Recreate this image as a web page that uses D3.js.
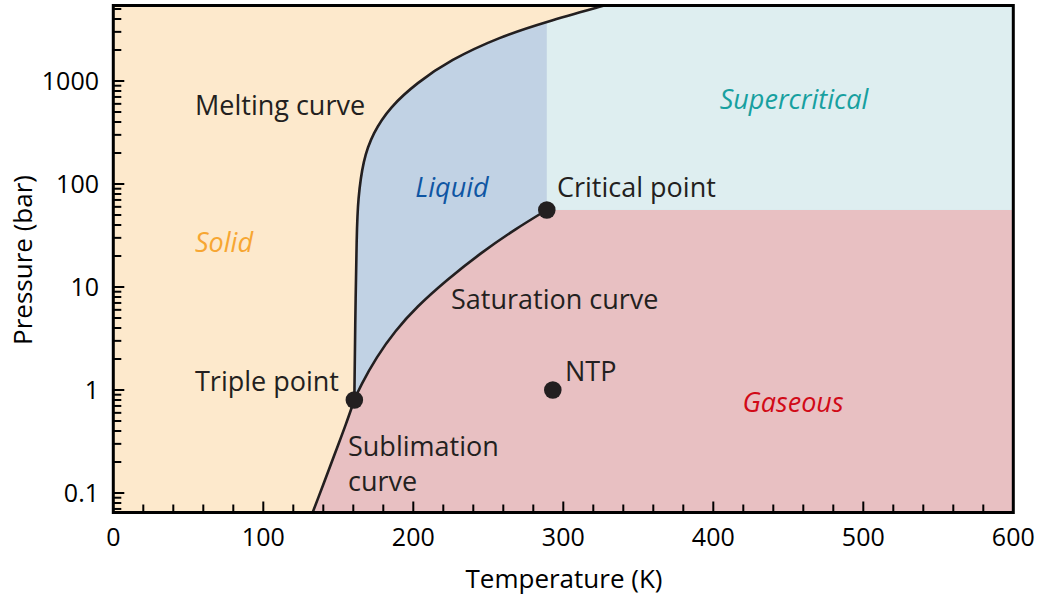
<!DOCTYPE html>
<html>
<head>
<meta charset="utf-8">
<script src="https://cdn.jsdelivr.net/npm/d3@7"></script>
<style>
  html, body { margin: 0; padding: 0; background: #fff; }
  svg { display: block; font-family: "Open Sans", "Noto Sans", sans-serif; }
</style>
</head>
<body>
<svg id="chart" width="1040" height="598"></svg>
<script>
// Phase boundaries (temperature in K, pressure in bar)
const sublimationT = [132.5, 140, 148, 155, 160.7];
const sublimationP = [0.0625, 0.121, 0.247, 0.464, 0.8];

const meltingT = [160.7, 161.2, 162.3, 163.1, 166.5, 173.1, 184.5, 202.3, 224.5, 257.8, 288.9, 324.5, 351];
const meltingP = [0.8, 3.8, 35.7, 70, 171, 313, 560, 957, 1600, 2690, 3770, 5260, 6760];

const saturationT = [160.7, 164.5, 175.6, 187.8, 202.3, 222.3, 244.5, 268.9, 289];
const saturationP = [0.8, 1.08, 2.11, 3.74, 6.44, 11.7, 21.2, 37.2, 56];

// Marked points
const pointNames = ["Triple point", "Critical point", "NTP"];
const pointT = [160.7, 289, 293];
const pointP = [0.8, 56, 1.0];

// Axis ticks
const xTickValues = [0, 100, 200, 300, 400, 500, 600];
const yTickValues = [0.1, 1, 10, 100, 1000];
const yTickLabels = ["0.1", "1", "10", "100", "1000"];

const svg = d3.select("#chart");
const pL = 113.3, pR = 1013.3, pT = 5.5, pB = 512.5;

const x = d3.scaleLinear().domain([0, 600]).range([pL, pR]);
const yMin = Math.pow(10, -(pB - 390) / 103);
const yMax = Math.pow(10, 3 + (81 - pT) / 103);
const y = d3.scaleLog().domain([yMin, yMax]).range([pB, pT]);

const zip = (T, P) => T.map((t, i) => [t, P[i]]);
const sub = zip(sublimationT, sublimationP);
const melt = zip(meltingT, meltingP);
const sat = zip(saturationT, saturationP);
const Tc = pointT[1], Pc = pointP[1];

const subLine = d3.line().x(d => x(d[0])).y(d => y(d[1])).curve(d3.curveCatmullRom.alpha(0.5));
const smooth = d3.line().x(d => x(d[0])).y(d => y(d[1])).curve(d3.curveBasis);
const straight = d3.line().x(d => x(d[0])).y(d => y(d[1]));

const colors = {
  solid: "#fde9cc", liquid: "#c1d2e4", supercritical: "#deeef0", gas: "#e8c0c2",
  ink: "#231f20"
};

const defs = svg.append("defs");
defs.append("clipPath").attr("id", "plot-clip")
  .append("rect").attr("x", pL).attr("y", pT).attr("width", pR - pL).attr("height", pB - pT);

// Fluid side of the sublimation + melting boundary
const pLow = 0.03, pHigh = 9000;
const fluidPath = subLine(sub) + smooth(melt).replace(/^M/, "L") +
  straight([[meltingT[meltingT.length - 1], pHigh], [700, pHigh], [700, pLow], [sublimationT[0], pLow]]).replace(/^M/, "L") + "Z";
defs.append("clipPath").attr("id", "fluid-clip").append("path").attr("d", fluidPath);

const plot = svg.append("g").attr("clip-path", "url(#plot-clip)");
plot.append("rect").attr("x", pL).attr("y", pT).attr("width", pR - pL).attr("height", pB - pT)
  .attr("fill", colors.solid);

const fluid = plot.append("g").attr("clip-path", "url(#fluid-clip)");
fluid.append("rect").attr("x", pL).attr("y", pT).attr("width", pR - pL).attr("height", pB - pT)
  .attr("fill", colors.liquid);
fluid.append("rect").attr("x", x(Tc)).attr("y", pT).attr("width", pR - x(Tc)).attr("height", y(Pc) - pT)
  .attr("fill", colors.supercritical);
const gasPath = smooth(sat) +
  straight([[Tc, Pc], [700, Pc], [700, pLow], [100, pLow], [100, saturationP[0]]]).replace(/^M/, "L") + "Z";
fluid.append("path").attr("d", gasPath).attr("fill", colors.gas);

// Boundary curves
const curves = plot.append("g").attr("fill", "none").attr("stroke", colors.ink).attr("stroke-width", 2.6);
curves.append("path").attr("d", subLine(sub));
curves.append("path").attr("d", smooth(melt));
curves.append("path").attr("d", smooth(sat));

// Ticks (inward)
const ticks = svg.append("g").attr("stroke", "#000").attr("stroke-width", 2);
d3.range(20, 600, 20).forEach(t => {
  const major = t % 100 === 0;
  ticks.append("line").attr("x1", x(t)).attr("x2", x(t))
    .attr("y1", pB).attr("y2", pB - (major ? 11 : 8));
});
for (let e = -2; e <= 3; e++) {
  for (let m = 1; m <= 9; m++) {
    const v = m * Math.pow(10, e);
    if (v < yMin || v > yMax) continue;
    const yy = y(v);
    ticks.append("line").attr("x1", pL).attr("x2", pL + (m === 1 ? 11 : 8))
      .attr("y1", yy).attr("y2", yy);
  }
}

// Frame
svg.append("rect").attr("x", pL).attr("y", pT).attr("width", pR - pL).attr("height", pB - pT)
  .attr("fill", "none").attr("stroke", "#000").attr("stroke-width", 3);

// Tick labels
svg.append("g").selectAll("text").data(xTickValues).join("text")
  .attr("x", d => x(d)).attr("y", 546).attr("text-anchor", "middle")
  .attr("font-size", 25).attr("fill", "#000").text(d => d);
svg.append("g").selectAll("text").data(yTickValues).join("text")
  .attr("x", 99).attr("y", d => y(d) + 9).attr("text-anchor", "end")
  .attr("font-size", 25).attr("fill", "#000").text((d, i) => yTickLabels[i]);

// Axis titles
svg.append("text").attr("x", 564).attr("y", 588).attr("text-anchor", "middle")
  .attr("font-size", 26).attr("fill", "#000").text("Temperature (K)");
svg.append("text").attr("transform", "translate(32,260) rotate(-90)").attr("text-anchor", "middle")
  .attr("font-size", 26).attr("fill", "#000").text("Pressure (bar)");

// Points
svg.append("g").selectAll("circle").data(pointT).join("circle")
  .attr("cx", d => x(d)).attr("cy", (d, i) => y(pointP[i])).attr("r", 8.8)
  .attr("fill", colors.ink);

// Annotations
const labels = [
  { text: "Melting curve", x: 195, y: 115, color: colors.ink },
  { text: "Liquid", x: 452, y: 197, color: "#0f56a3", italic: true, anchor: "middle" },
  { text: "Supercritical", x: 794, y: 109, color: "#17a0a0", italic: true, anchor: "middle" },
  { text: "Critical point", x: 557, y: 197, color: colors.ink },
  { text: "Solid", x: 224, y: 252, color: "#f7a632", italic: true, anchor: "middle" },
  { text: "Saturation curve", x: 451, y: 309, color: colors.ink },
  { text: "Triple point", x: 195, y: 391, color: colors.ink },
  { text: "NTP", x: 565, y: 381, color: colors.ink },
  { text: "Gaseous", x: 793, y: 412, color: "#d10a17", italic: true, anchor: "middle" },
  { text: "Sublimation", x: 348, y: 456, color: colors.ink },
  { text: "curve", x: 348, y: 491, color: colors.ink }
];
svg.append("g").selectAll("text").data(labels).join("text")
  .attr("x", d => d.x).attr("y", d => d.y)
  .attr("text-anchor", d => d.anchor || "start")
  .attr("font-size", 27)
  .attr("font-style", d => d.italic ? "italic" : "normal")
  .attr("fill", d => d.color)
  .text(d => d.text);
</script>
</body>
</html>
